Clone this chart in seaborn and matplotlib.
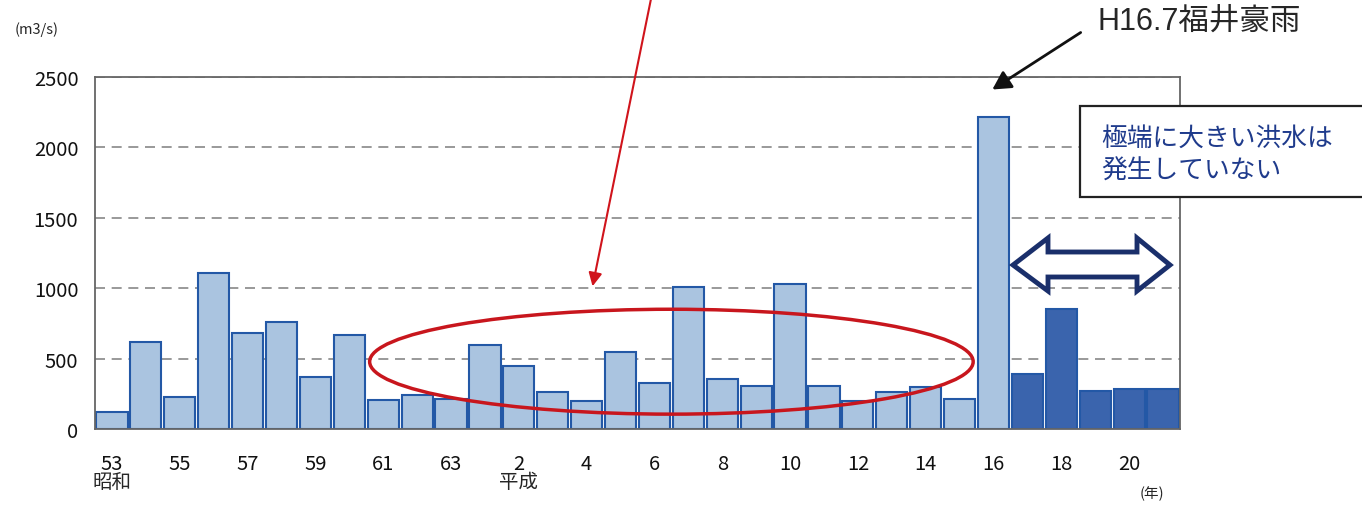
import numpy as np
import pandas as pd
import matplotlib
matplotlib.use("Agg")
import matplotlib.pyplot as plt
from matplotlib.patches import Ellipse, Polygon, Rectangle, FancyArrowPatch
import seaborn as sns

# annual max flood discharge, S53 (1978) .. H21 (2009)
years = ["S53", "S54", "S55", "S56", "S57", "S58", "S59", "S60", "S61", "S62", "S63",
         "H1", "H2", "H3", "H4", "H5", "H6", "H7", "H8", "H9", "H10",
         "H11", "H12", "H13", "H14", "H15", "H16", "H17", "H18", "H19", "H20", "H21"]
flow = [120, 620, 230, 1110, 680, 760, 370, 670, 205, 240, 215,
        600, 445, 260, 200, 550, 330, 1010, 355, 305, 1030,
        305, 200, 260, 295, 215, 2215, 390, 850, 270, 285, 285]
group = ["before"] * 27 + ["after"] * 5
tick_labels = ["53", "55", "57", "59", "61", "63", "2", "4", "6", "8",
               "10", "12", "14", "16", "18", "20"]

df = pd.DataFrame({"year": years, "flow": flow, "group": group})

W, H = 1362, 506
sns.set_theme(style="white")
plt.rcParams["font.family"] = ["Liberation Sans Narrow", "Noto Sans CJK JP", "DejaVu Sans"]

fig = plt.figure(figsize=(W / 100, H / 100), dpi=100)
ax = fig.add_axes([95 / W, 1 - 430 / H, (1180 - 95) / W, (430 - 78) / H])


def fp(x, y):
    # pixel (top-left origin) -> figure fraction
    return (x / W, 1 - y / H)


sns.barplot(data=df, x="year", y="flow", hue="group", order=years,
            palette={"before": "#aac4e0", "after": "#3a64ad"}, saturation=1,
            dodge=False, width=0.92, edgecolor="#2358a6", linewidth=1.5,
            legend=False, ax=ax)

ax.set_xlim(-0.5, len(years) - 0.5)
ax.set_ylim(0, 2500)
ax.set_yticks([0, 500, 1000, 1500, 2000, 2500])
ax.set_xticks(range(0, len(years), 2))
ax.set_xticklabels(tick_labels)
ax.tick_params(axis="both", length=0, labelsize=14.5, colors="#111")
ax.tick_params(axis="x", pad=17)
ax.tick_params(axis="y", pad=12)
ax.set_xlabel("")
ax.set_ylabel("")
ax.yaxis.grid(True, linestyle=(0, (6, 4)), color="#888", lw=1.2)
ax.set_axisbelow(True)
for s in ax.spines.values():
    s.set_color("#666")
    s.set_linewidth(1.3)

# era labels
ax.text(0, -0.15, "昭和", transform=ax.get_xaxis_transform(), ha="center", va="center",
        fontsize=14, family=["Noto Sans CJK JP"])
ax.text(12, -0.15, "平成", transform=ax.get_xaxis_transform(), ha="center", va="center",
        fontsize=14, family=["Noto Sans CJK JP"])

fig.text(*fp(15, 30), "(m3/s)", fontsize=10.5, va="center", ha="left")
fig.text(*fp(1152, 494), "(年)", fontsize=10.5, va="center", ha="center",
         family=["Noto Sans CJK JP"])

# red ellipse around the moderate years
ax.add_patch(Ellipse((16.5, 478), 17.8, 745, fill=False, edgecolor="#c8161d", lw=2.5, zorder=5))
fig.add_artist(FancyArrowPatch(
    fp(652, -5), fp(592, 290), transform=fig.transFigure,
    arrowstyle="-|>,head_length=8,head_width=4", color="#d0141c", lw=1.5))

# H16.7 label and arrow
fig.text(*fp(1097, 22), "H16.7福井豪雨", fontsize=22, va="center", ha="left",
         family=["Liberation Sans", "Noto Sans CJK JP"])
fig.add_artist(FancyArrowPatch(
    fp(1083, 32), fp(990, 92), transform=fig.transFigure,
    arrowstyle="-|>,head_length=11,head_width=6", color="#111", lw=2))

# comment box
fig.add_artist(Rectangle(fp(1080, 198), 400 / W, 91 / H, transform=fig.transFigure,
                         facecolor="white", edgecolor="#222", lw=1.6, zorder=6))
fig.text(*fp(1101, 155), "極端に大きい洪水は\n発生していない", fontsize=18.5, va="center",
         ha="left", color="#1f3b8c", linespacing=1.35, zorder=7, family=["Noto Sans CJK JP"])

# hollow double arrow over the recent years
pts = [(1013, 266), (1048, 239), (1048, 253), (1137, 253), (1137, 239), (1170, 266),
       (1137, 292), (1137, 278), (1048, 278), (1048, 292)]
fig.add_artist(Polygon([fp(x, y) for x, y in pts], closed=True, transform=fig.transFigure,
                       facecolor="white", edgecolor="#1a2f6b", lw=3.5, joinstyle="miter", zorder=6))

fig.savefig("out.png", dpi=100)
